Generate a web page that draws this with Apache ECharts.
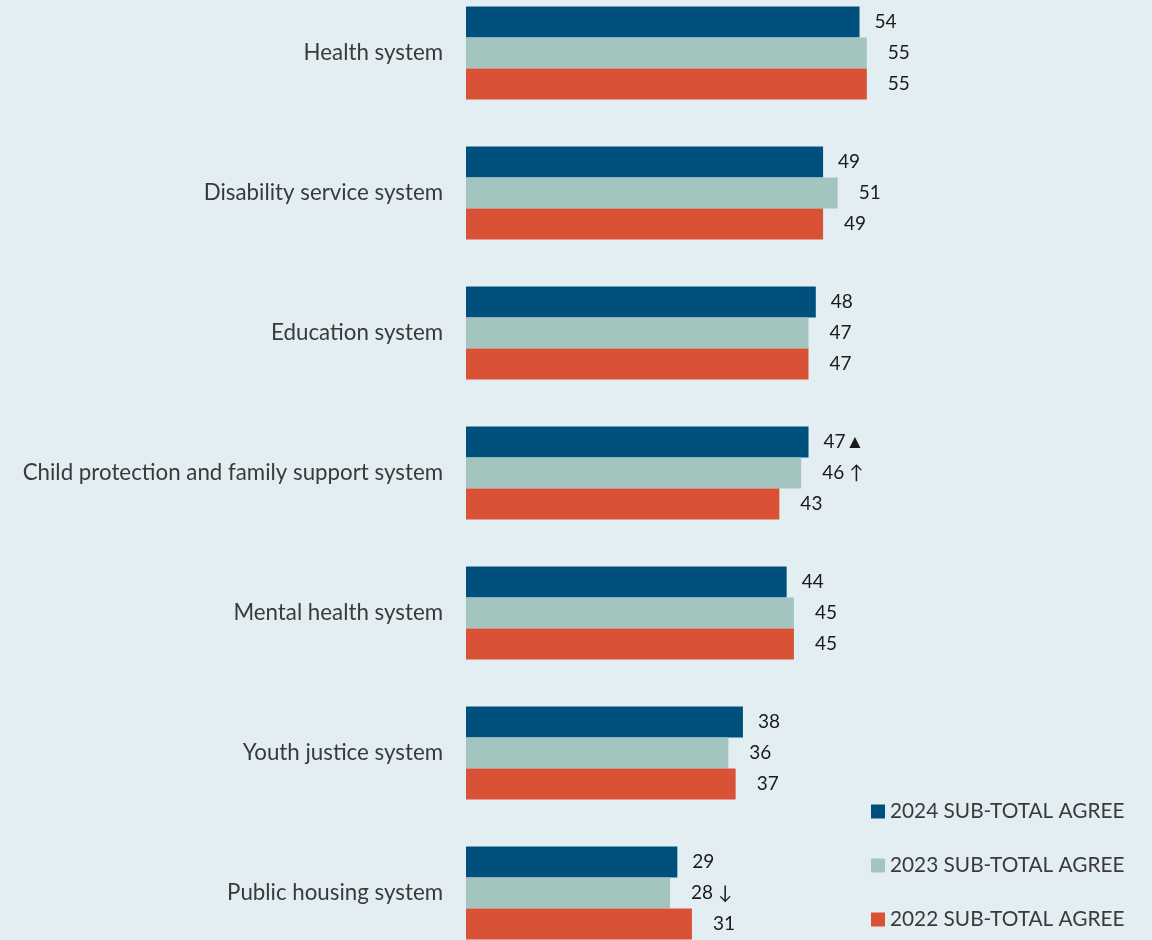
<!DOCTYPE html>
<html><head><meta charset="utf-8">
<script src="https://cdn.jsdelivr.net/npm/echarts@6/dist/echarts.min.js"></script>
<style>html,body{margin:0;padding:0;background:#E3EEF3;overflow:hidden;width:1152px;height:940px;}#c{position:absolute;left:0;top:-17px;width:1152px;height:980px;}</style>
</head><body><div id="c"></div>
<script>
var categories = ["Health system","Disability service system","Education system","Child protection and family support system","Mental health system","Youth justice system","Public housing system"];
var seriesNames = ["2024 SUB-TOTAL AGREE","2023 SUB-TOTAL AGREE","2022 SUB-TOTAL AGREE"];
var values2024 = [54,49,48,47,44,38,29];
var values2023 = [55,51,47,46,45,36,28];
var values2022 = [55,49,47,43,45,37,31];
// significance markers appended to labels
var marks2024 = ["","","","▲","","",""];
var marks2023 = ["","","","↑","","","↓"];
var marks2022 = ["","","","","","",""];
var colors = ["#00507D","#A4C5BF","#DA5236"];
var FONT = "Lato";

function mk(vals, marks){
  return vals.map(function(v,i){
    var m = marks[i];
    return {value:v, label:{formatter: m ? (m==="▲" ? v+m : v+" "+m) : String(v)}};
  });
}
var chart = echarts.init(document.getElementById('c'));
var sets = [[values2024,marks2024,15],[values2023,marks2023,21],[values2022,marks2022,21]];
chart.setOption({
  backgroundColor:"#E3EEF3",
  animation:false,
  textStyle:{fontFamily:FONT},
  grid:{left:466,right:103,top:0,bottom:0,containLabel:false},
  xAxis:{type:'value',min:0,max:80,show:false},
  yAxis:{type:'category',data:categories,inverse:true,
    axisLine:{show:false},axisTick:{show:false},
    axisLabel:{fontSize:22.3,color:'#3A3A3A',margin:23,fontFamily:FONT}},
  legend:{orient:'vertical',left:866,top:813,itemWidth:14,itemHeight:14,itemGap:33,
    icon:'rect',textStyle:{fontSize:20.8,lineHeight:20,color:'#3A3A3A',fontFamily:FONT},data:seriesNames},
  series: sets.map(function(s,k){
    return {type:'bar',name:seriesNames[k],data:mk(s[0],s[1]),barWidth:31,barGap:'0%',
      itemStyle:{color:colors[k]},
      label:{show:true,position:'right',distance:s[2],fontSize:19,color:'#1A1A1A',fontFamily:FONT}};
  })
});
</script></body></html>
